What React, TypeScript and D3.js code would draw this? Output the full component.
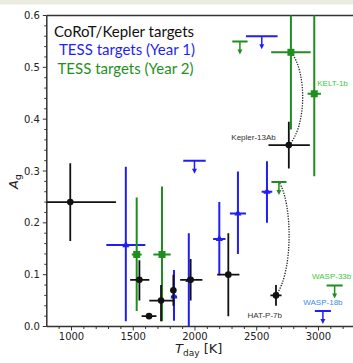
import React from 'react';
import * as d3 from 'd3';

const W = 353, H = 363;

// Axis ticks
const xMajor = [1000, 1500, 2000, 2500, 3000];
const yMajor = [0.0, 0.1, 0.2, 0.3, 0.4, 0.5, 0.6];

// CoRoT/Kepler targets
const kepT = [990, 1550, 1628, 1725, 1825, 1965, 2270, 2656, 2760];
const kepAg = [0.24, 0.09, 0.02, 0.05, 0.07, 0.09, 0.10, 0.06, 0.35];
const kepTLo = [190, 75, 60, 95, 15, 85, 90, 45, 165];
const kepTHi = [370, 80, 60, 100, 15, 95, 90, 45, 170];
const kepAgLo = [0.075, 0.04, 0.005, 0.04, 0.03, 0.04, 0.08, 0.02, 0.045];
const kepAgHi = [0.075, 0.038, 0.005, 0.03, 0.03, 0.04, 0.08, 0.02, 0.045];

// TESS Year 1 measurements
const t1T = [1440, 1830, 1950, 2197, 2348, 2583];
const t1Ag = [0.157, 0.058, 0.09, 0.169, 0.218, 0.26];
const t1TErr = [158, 25, 0, 50, 65, 43];
const t1AgLo = [0.147, 0.047, 0.09, 0.07, 0.078, 0.06];
const t1AgHi = [0.151, 0.051, 0.09, 0.071, 0.081, 0.059];
// TESS Year 1 upper limits
const t1UlT = [1996, 2541, 3036];
const t1UlAg = [0.32, 0.56, 0.03];
const t1UlTErr = [91, 128, 65];

// TESS Year 2 measurements
const t2T = [1528, 1733, 2777, 2966];
const t2Ag = [0.139, 0.139, 0.529, 0.449];
const t2TErr = [40, 70, 160, 54];
const t2AgLo = [0.109, 0.129, 0.149, 0.159];
const t2AgHi = [0.11, 0.131, 0.15, 0.2];
// TESS Year 2 upper limits
const t2UlT = [2364, 2680, 3131];
const t2UlAg = [0.55, 0.279, 0.079];
const t2UlTErr = [62, 61, 65];

const BLACK = '#111';
const BLUE = '#1f1ff5';
const GREEN = '#1e8f1e';

export default function App() {
  const x = d3.scaleLinear().domain([800, 3300]).range([46.8, 355.5]);
  const y = d3.scaleLinear().domain([0, 0.6]).range([326.5, 15.5]);
  const [x0, x1] = x.range();
  const [y0, y1] = y.range();

  const xMinor = d3.range(900, 3300, 100).filter(v => !xMajor.includes(v));
  const yMinor = d3.range(0.02, 0.6, 0.02).filter(v => Math.abs(v * 10 - Math.round(v * 10)) > 1e-6);

  const errBar = (key: string, T: number, A: number, tlo: number, thi: number, alo: number, ahi: number, color: string, w: number) => (
    <g key={key} stroke={color} strokeWidth={w}>
      <line x1={x(Math.max(800, T - tlo))} x2={x(T + thi)} y1={y(A)} y2={y(A)} />
      <line x1={x(T)} x2={x(T)} y1={y(A - alo)} y2={y(A + ahi)} />
    </g>
  );

  const upper = (key: string, T: number, A: number, te: number, color: string) => {
    const cx = x(T), cy = y(A), len = 12;
    return (
      <g key={key}>
        <line x1={x(T - te)} x2={x(T + te)} y1={cy} y2={cy} stroke={color} strokeWidth={2} />
        <line x1={cx} x2={cx} y1={cy} y2={cy + len - 2} stroke={color} strokeWidth={1.5} />
        <path d={`M${cx - 2.5},${cy + len - 4}L${cx + 2.5},${cy + len - 4}L${cx},${cy + len + 1}Z`} fill={color} />
      </g>
    );
  };

  const curve = (ax: number, ay: number, bx: number, by: number, bulge: number) => {
    const cxp = Math.max(ax, bx) + bulge;
    const p = d3.path();
    p.moveTo(ax, ay);
    p.bezierCurveTo(cxp, ay + (by - ay) * 0.2, cxp, ay + (by - ay) * 0.8, bx, by);
    return p.toString();
  };

  const k13 = 8, hat = 7;
  const curve1 = curve(x(kepT[k13]), y(kepAg[k13]), x(t2T[2]), y(t2Ag[2]), 16);
  const curve2 = curve(x(kepT[hat]), y(kepAg[hat]), x(t2UlT[1]), y(t2UlAg[1]), 14);

  return (
    <svg width={W} height={H} style={{ position: 'absolute', left: 0, top: 0, background: '#fff' }}
      fontFamily="'DejaVu Sans', sans-serif">
      <rect x={0} y={0} width={W} height={4.5} fill="#ecebe0" />
      <defs>
        <clipPath id="plot"><rect x={x0} y={y1} width={x1 - x0} height={y0 - y1} /></clipPath>
      </defs>

      {/* spines */}
      <line x1={x0} x2={W} y1={y1} y2={y1} stroke="#333" strokeWidth={1.5} />
      <line x1={x0} x2={W} y1={y0} y2={y0} stroke="#333" strokeWidth={1.5} />
      <line x1={x0} x2={x0} y1={y1} y2={y0} stroke="#333" strokeWidth={1.5} />

      {/* x ticks */}
      {xMajor.map(v => (
        <g key={'xm' + v}>
          <line x1={x(v)} x2={x(v)} y1={y0} y2={y0 + 4} stroke="#333" strokeWidth={1} />
          <text x={x(v)} y={y0 + 13} fontSize={10} textAnchor="middle" fill="#222">{v}</text>
        </g>
      ))}
      {xMinor.map(v => <line key={'xn' + v} x1={x(v)} x2={x(v)} y1={y0} y2={y0 + 2.5} stroke="#333" strokeWidth={1} />)}

      {/* y ticks */}
      {yMajor.map(v => (
        <g key={'ym' + v}>
          <line x1={x0 - 4} x2={x0} y1={y(v)} y2={y(v)} stroke="#333" strokeWidth={1} />
          <text x={x0 - 7} y={y(v) + 3.5} fontSize={10} textAnchor="end" fill="#222">{v.toFixed(1)}</text>
        </g>
      ))}
      {yMinor.map(v => <line key={'yn' + v} x1={x0 - 2.5} x2={x0} y1={y(v)} y2={y(v)} stroke="#333" strokeWidth={1} />)}

      {/* axis labels */}
      <text transform={`translate(18,${y(0.3) + 18}) rotate(-90)`} fontSize={13} fill="#222">
        <tspan fontStyle="italic">A</tspan><tspan fontSize={9} dy={3}>g</tspan>
      </text>
      <text x={175} y={353} fontSize={13} fill="#222">
        <tspan fontStyle="italic">T</tspan><tspan fontSize={9} dy={3}>day</tspan><tspan dy={-3}> [K]</tspan>
      </text>

      <g clipPath="url(#plot)">
        {/* dotted connectors */}
        <path d={curve1} fill="none" stroke="#222" strokeWidth={1.3} strokeDasharray="1.3,1.3" />
        <path d={curve2} fill="none" stroke="#222" strokeWidth={1.3} strokeDasharray="1.3,1.3" />

        {/* TESS Year 1 */}
        {t1T.map((T, i) => errBar('b' + i, T, t1Ag[i], t1TErr[i], t1TErr[i], t1AgLo[i], t1AgHi[i], BLUE, 2))}
        {t1T.map((T, i) => (
          <path key={'bm' + i} d={d3.symbol(d3.symbolTriangle, 22)()!} transform={`translate(${x(T)},${y(t1Ag[i])})`} fill={BLUE} />
        ))}
        {t1UlT.map((T, i) => upper('bu' + i, T, t1UlAg[i], t1UlTErr[i], BLUE))}

        {/* TESS Year 2 */}
        {t2T.map((T, i) => errBar('g' + i, T, t2Ag[i], t2TErr[i], t2TErr[i], t2AgLo[i], t2AgHi[i], GREEN, 2))}
        {t2T.map((T, i) => (
          <rect key={'gm' + i} x={x(T) - 3.5} y={y(t2Ag[i]) - 3.5} width={7} height={7} fill={GREEN} />
        ))}
        {t2UlT.map((T, i) => upper('gu' + i, T, t2UlAg[i], t2UlTErr[i], GREEN))}

        {/* CoRoT/Kepler */}
        {kepT.map((T, i) => errBar('k' + i, T, kepAg[i], kepTLo[i], kepTHi[i], kepAgLo[i], kepAgHi[i], BLACK, 1.8))}
        {kepT.map((T, i) => <circle key={'km' + i} cx={x(T)} cy={y(kepAg[i])} r={3.3} fill={BLACK} />)}
      </g>

      {/* planet labels */}
      <g fontFamily="'Liberation Sans', Arial, sans-serif" fontSize={8}>
        <text x={x(kepT[k13]) - 13} y={y(kepAg[k13]) - 5} textAnchor="end" fill="#333">Kepler-13Ab</text>
        <text x={x(kepT[hat]) + 6} y={y(kepAg[hat]) + 23} textAnchor="end" fill="#333">HAT-P-7b</text>
        <text x={x(t2T[3]) + 3} y={y(t2Ag[3]) - 8} fill="#3cc83c">KELT-1b</text>
        <text x={x(t2UlT[2]) - 3} y={y(t2UlAg[2]) - 7} textAnchor="middle" fill="#3cc83c">WASP-33b</text>
        <text x={x(t1UlT[2])} y={y(t1UlAg[2]) - 5.5} textAnchor="middle" fill="#3a8ee6">WASP-18b</text>
      </g>

      {/* legend */}
      <g fontFamily="Lato, 'Open Sans', sans-serif" fontSize={15}>
        <text x={54} y={36.5} fill="#111">CoRoT/Kepler targets</text>
        <text x={59} y={55} fill={BLUE}>TESS targets (Year 1)</text>
        <text x={57.5} y={73.5} fill={GREEN}>TESS targets (Year 2)</text>
      </g>
    </svg>
  );
}
